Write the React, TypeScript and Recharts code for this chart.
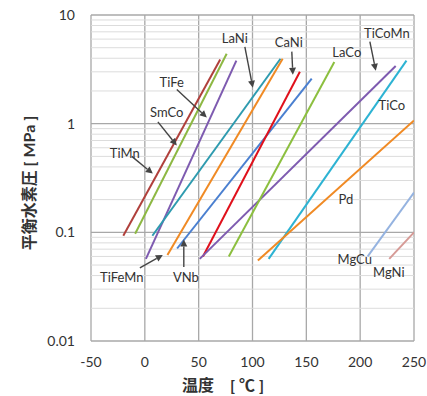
import React from 'react';
import {
  LineChart, Line, XAxis, YAxis, CartesianGrid,
  ReferenceLine, ReferenceDot,
} from 'recharts';

// 各合金の平衡水素圧 (温度 ℃, 圧力 MPa) — 両端点
const alloys = [
  { name: 'TiMn', color: '#b0403c', pts: [[-20, 0.093], [70, 3.9]] },
  { name: 'SmCo', color: '#8db843', pts: [[-9, 0.097], [76, 4.4]] },
  { name: 'TiFe', color: '#7e5bb0', pts: [[1, 0.057], [85, 3.8]] },
  { name: 'LaNi', color: '#2e9baf', pts: [[7, 0.093], [126, 3.96]] },
  { name: 'TiFeMn', color: '#f08a24', pts: [[21, 0.062], [128, 3.96]] },
  { name: 'VNb', color: '#4a7fd0', pts: [[30, 0.071], [155, 2.6]] },
  { name: 'CaNi', color: '#e0101b', pts: [[54, 0.06], [144, 3.0]] },
  { name: 'TiCoMn', color: '#7e5bb0', pts: [[51, 0.057], [233, 3.4]] },
  { name: 'LaCo', color: '#8cbf3f', pts: [[78, 0.06], [176, 3.7]] },
  { name: 'TiCo', color: '#2db3d3', pts: [[115, 0.057], [243, 3.8]] },
  { name: 'Pd', color: '#f08a24', pts: [[105, 0.055], [250, 1.07]] },
  { name: 'MgCu', color: '#95b3e0', pts: [[207, 0.06], [250, 0.232]] },
  { name: 'MgNi', color: '#d69a96', pts: [[227, 0.057], [250, 0.1]] },
];

// ラベル位置 (温度, 圧力)
const labels = [
  { text: 'TiMn', x: -18.6, y: 0.54 },
  { text: 'SmCo', x: 20.4, y: 1.29 },
  { text: 'TiFe', x: 25, y: 2.43 },
  { text: 'LaNi', x: 83.6, y: 6.2 },
  { text: 'CaNi', x: 133.7, y: 5.6 },
  { text: 'LaCo', x: 187.6, y: 4.6 },
  { text: 'TiCoMn', x: 224.8, y: 6.9 },
  { text: 'TiCo', x: 229.4, y: 1.5 },
  { text: 'Pd', x: 186.7, y: 0.204 },
  { text: 'MgCu', x: 195, y: 0.057 },
  { text: 'MgNi', x: 226.6, y: 0.0435 },
  { text: 'TiFeMn', x: -21.4, y: 0.039 },
  { text: 'VNb', x: 38.1, y: 0.039 },
];

// 矢印 (始点 → 終点)
const arrows = [
  [[-12.1, 0.5], [7.4, 0.347]],
  [[12.1, 1.04], [29.7, 0.63]],
  [[29.7, 2.06], [57.6, 1.14]],
  [[92.9, 5.1], [100.3, 2.14]],
  [[136.5, 4.6], [137.5, 2.82]],
  [[209, 5.7], [214.5, 3.07]],
  [[-4.6, 0.047], [16.7, 0.062]],
  [[36.2, 0.048], [36.2, 0.086]],
];

const xTicks = [-50, 0, 50, 100, 150, 200, 250];
const yTicks = [0.01, 0.1, 1, 10];
const minorY = [
  0.02, 0.03, 0.04, 0.05, 0.06, 0.07, 0.08, 0.09,
  0.2, 0.3, 0.4, 0.5, 0.6, 0.7, 0.8, 0.9,
  2, 3, 4, 5, 6, 7, 8, 9,
];

const FONT = "Lato, 'Noto Sans CJK JP', sans-serif";

const Arrow = (p: any) => {
  const { x1, y1, x2, y2 } = p;
  const a = Math.atan2(y2 - y1, x2 - x1);
  const L = 7, W = 3.5;
  const bx = x2 - L * Math.cos(a), by = y2 - L * Math.sin(a);
  const px = -Math.sin(a) * W, py = Math.cos(a) * W;
  return (
    <g>
      <line x1={x1} y1={y1} x2={bx} y2={by} stroke="#444" strokeWidth={1.4} />
      <polygon points={`${x2},${y2} ${bx + px},${by + py} ${bx - px},${by - py}`} fill="#444" />
    </g>
  );
};

export default function App() {
  return (
    <div style={{ position: 'absolute', left: 0, top: 0, background: '#fff' }}>
      <LineChart width={427} height={396} margin={{ top: 15, right: 13, left: 0, bottom: 0 }}>
        {minorY.map((v) => (
          <ReferenceLine key={v} y={v} stroke="#dcdcdc" strokeWidth={1} />
        ))}
        <CartesianGrid stroke="#a8a8a8" strokeWidth={1.3} horizontalValues={yTicks} verticalValues={xTicks} />
        <XAxis
          type="number"
          dataKey="x"
          domain={[-50, 250]}
          ticks={xTicks}
          allowDataOverflow
          axisLine={false}
          tickLine={false}
          height={55}
          tickMargin={10}
          tick={{ fill: '#333', fontSize: 14, fontFamily: FONT }}
          label={{
            content: () => (
              <text x={223} y={391} textAnchor="middle" fontSize={16} fontWeight="bold" fill="#333" fontFamily={FONT}>
                温度　[ ℃ ]
              </text>
            ),
          }}
        />
        <YAxis
          type="number"
          scale="log"
          domain={[0.01, 10]}
          ticks={yTicks}
          allowDataOverflow
          axisLine={false}
          tickLine={false}
          width={91}
          tickMargin={10}
          tick={{ fill: '#333', fontSize: 14, fontFamily: FONT }}
          label={{
            content: () => (
              <text x={28} y={183} transform="rotate(-90 28 183)" textAnchor="middle" dominantBaseline="central"
                fontSize={16} fontWeight="bold" fill="#333" fontFamily={FONT}>
                平衡水素圧 [ MPa ]
              </text>
            ),
          }}
        />
        {alloys.map((a) => (
          <Line
            key={a.name}
            data={a.pts.map(([x, y]) => ({ x, y }))}
            dataKey="y"
            stroke={a.color}
            strokeWidth={2}
            dot={false}
            isAnimationActive={false}
          />
        ))}
        {arrows.map(([s, e], i) => (
          <ReferenceLine
            key={'a' + i}
            segment={[{ x: s[0], y: s[1] }, { x: e[0], y: e[1] }]}
            shape={Arrow}
          />
        ))}
        {labels.map((l) => (
          <ReferenceDot
            key={l.text}
            x={l.x}
            y={l.y}
            shape={(p: any) => (
              <text x={p.cx} y={p.cy} textAnchor="middle" dominantBaseline="central"
                fontSize={13} fill="#333" fontFamily={FONT}>
                {l.text}
              </text>
            )}
          />
        ))}
      </LineChart>
    </div>
  );
}
